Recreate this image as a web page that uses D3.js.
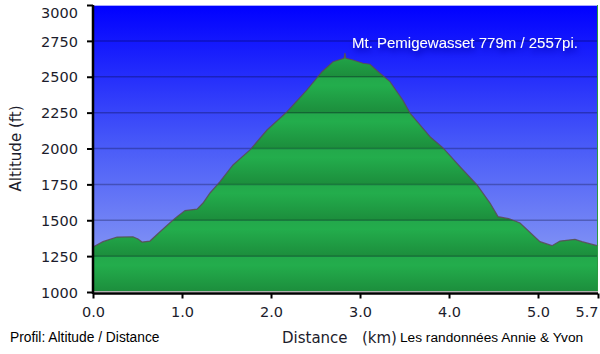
<!DOCTYPE html>
<html>
<head>
<meta charset="utf-8">
<script src="https://cdn.jsdelivr.net/npm/d3@7"></script>
<style>
  html, body { margin: 0; padding: 0; background: #fff; }
  svg { display: block; }
</style>
</head>
<body>
<div id="profile_chart"></div>
<script>
// Elevation profile (km / ft)
const distKm = [0.00, 0.112, 0.270, 0.449, 0.506, 0.551, 0.640, 0.753, 0.865, 0.944,
    1.034, 1.169, 1.236, 1.315, 1.427, 1.573, 1.764, 1.955, 2.180, 2.404,
    2.573, 2.697, 2.820, 2.831, 2.842, 2.921, 3.034, 3.112, 3.225, 3.337,
    3.483, 3.562, 3.787, 3.933, 4.124, 4.315, 4.461, 4.551, 4.685, 4.798,
    5.022, 5.157, 5.247, 5.416, 5.494, 5.674];
const altFt = [1314, 1351, 1383, 1385, 1369, 1348, 1355, 1420, 1483, 1525,
    1567, 1578, 1620, 1690, 1769, 1885, 1990, 2129, 2256, 2408,
    2535, 2605, 2629, 2665, 2629, 2617, 2594, 2587, 2524, 2466,
    2335, 2247, 2082, 2004, 1873, 1746, 1620, 1525, 1509, 1481,
    1351, 1323, 1355, 1367, 1351, 1321];

// Axis ticks
const yTicks = [1000, 1250, 1500, 1750, 2000, 2250, 2500, 2750, 3000];
const xTicks = [0, 1, 2, 3, 4, 5, 5.674];

// Texts
const titleText = "Mt. Pemigewasset 779m / 2557pi.";
const yLabel = "Altitude (ft)";
const xLabel = "Distance   (km)";
const footLeft = "Profil: Altitude / Distance";
const footRight = "Les randonnées Annie & Yvon";

function create_profile_chart(width, height) {
    const left = 93, right = 598, top = 5, bottom = 292;

    const x = d3.scaleLinear().domain([0, 5.674]).range([left, right]);
    const y = d3.scaleLinear().domain([1000, 3000]).range([bottom, top]);

    const svg = d3.select("#profile_chart").append("svg")
        .attr("width", width)
        .attr("height", height);

    const defs = svg.append("defs");

    // Sky gradient, dark blue on top
    const sky = defs.append("linearGradient")
        .attr("id", "sky")
        .attr("x1", 0).attr("y1", 0).attr("x2", 0).attr("y2", 1);
    sky.append("stop").attr("offset", 0).attr("stop-color", "#0000ff");
    sky.append("stop").attr("offset", 0.5).attr("stop-color", "#4a5cf8");
    sky.append("stop").attr("offset", 1).attr("stop-color", "#95a6f3");

    // Green bands, one per 250 ft, lighter just under each grid line
    const band = defs.append("linearGradient")
        .attr("id", "band")
        .attr("gradientUnits", "userSpaceOnUse")
        .attr("spreadMethod", "repeat")
        .attr("x1", 0).attr("x2", 0)
        .attr("y1", y(1250)).attr("y2", y(1000));
    band.append("stop").attr("offset", 0).attr("stop-color", "#23a84b");
    band.append("stop").attr("offset", 0.25).attr("stop-color", "#23ad4c");
    band.append("stop").attr("offset", 1).attr("stop-color", "#1c8d3c");

    // Soft dark glow behind the title
    const glow = defs.append("filter").attr("id", "glow")
        .attr("x", "-10%").attr("y", "-50%").attr("width", "120%").attr("height", "250%");
    glow.append("feDropShadow")
        .attr("dx", 2).attr("dy", 4).attr("stdDeviation", 3)
        .attr("flood-color", "#0000a8").attr("flood-opacity", 0.9);

    // Plot background
    svg.append("rect")
        .attr("x", left).attr("y", top)
        .attr("width", right - left).attr("height", bottom - top)
        .attr("fill", "url(#sky)");

    // Terrain area
    const pts = distKm.map((d, i) => [d, altFt[i]]);
    const area = d3.area()
        .x(d => x(d[0]))
        .y0(y(1000))
        .y1(d => y(d[1]));
    svg.append("path")
        .datum(pts)
        .attr("d", area)
        .attr("fill", "url(#band)");

    // Grid lines
    svg.append("g")
        .selectAll("line")
        .data(yTicks.slice(1, -1))
        .enter().append("line")
        .attr("x1", left).attr("x2", right)
        .attr("y1", d => y(d)).attr("y2", d => y(d))
        .attr("stroke", "rgba(0,0,30,0.28)")
        .attr("stroke-width", 1.5);

    // Profile outline
    const line = d3.line()
        .x(d => x(d[0]))
        .y(d => y(d[1]));
    svg.append("path")
        .datum(pts)
        .attr("d", line)
        .attr("fill", "none")
        .attr("stroke", "#5b4a55")
        .attr("stroke-opacity", 0.85)
        .attr("stroke-width", 1.2);

    // Frame bits: top edge, right edge, grey line above x axis
    svg.append("line")
        .attr("x1", left).attr("x2", right).attr("y1", top + 0.5).attr("y2", top + 0.5)
        .attr("stroke", "#a8a8ff");
    svg.append("line")
        .attr("x1", right - 0.5).attr("x2", right - 0.5).attr("y1", top).attr("y2", bottom)
        .attr("stroke", "#2a9a40");
    svg.append("line")
        .attr("x1", left).attr("x2", right).attr("y1", bottom - 0.5).attr("y2", bottom - 0.5)
        .attr("stroke", "#b0b0b0");

    // Axes
    const yAxis = d3.axisLeft(y)
        .tickValues(yTicks)
        .tickSize(6)
        .tickPadding(9)
        .tickFormat(d3.format("d"));
    const gy = svg.append("g")
        .attr("transform", `translate(${left},0)`)
        .call(yAxis);

    const xAxis = d3.axisBottom(x)
        .tickValues(xTicks)
        .tickSize(5)
        .tickPadding(8)
        .tickFormat(d3.format(".1f"));
    const gx = svg.append("g")
        .attr("transform", `translate(0,${bottom + 1.5})`)
        .call(xAxis);

    [gx, gy].forEach(g => {
        g.select(".domain").attr("stroke", "#000").attr("stroke-width", 2.5);
        g.selectAll(".tick line").attr("stroke", "#000").attr("stroke-width", 2);
        g.selectAll(".tick text")
            .attr("fill", "#1c1c2c")
            .style("font-family", "'DejaVu Sans', Verdana, sans-serif")
            .style("font-size", "14.5px");
    });
    gy.select(".domain").attr("d", `M0,${top}V${bottom + 2}`);
    gy.selectAll(".tick text").attr("dy", d => d === 3000 ? "0.85em" : "0.36em");
    gx.select(".domain").attr("d", `M${left},0H${right}`);
    // last distance label sits inside the right edge
    gx.selectAll(".tick text")
        .filter(d => d === xTicks[xTicks.length - 1])
        .attr("text-anchor", "end")
        .attr("x", 0);

    // Axis labels
    svg.append("text")
        .attr("transform", `translate(21,${(top + bottom) / 2}) rotate(-90)`)
        .attr("text-anchor", "middle")
        .style("font-family", "'DejaVu Sans', Verdana, sans-serif")
        .style("font-size", "15px")
        .attr("fill", "#1c1c2c")
        .text(yLabel);

    svg.append("text")
        .attr("x", 282).attr("y", 343)
        .style("font-family", "'DejaVu Sans', Verdana, sans-serif")
        .style("font-size", "15px")
        .style("white-space", "pre")
        .attr("xml:space", "preserve")
        .attr("fill", "#1c1c2c")
        .text(xLabel);

    // Footer texts
    svg.append("text")
        .attr("x", 10).attr("y", 342)
        .style("font-family", "'Liberation Sans', Arial, sans-serif")
        .style("font-size", "13.8px")
        .attr("fill", "#000")
        .text(footLeft);

    svg.append("text")
        .attr("x", 400).attr("y", 342)
        .style("font-family", "'Liberation Sans', Arial, sans-serif")
        .style("font-size", "13.7px")
        .attr("fill", "#000")
        .text(footRight);

    // Summit title inside the plot
    svg.append("text")
        .attr("x", 352).attr("y", 48)
        .style("font-family", "'Liberation Sans', Arial, sans-serif")
        .style("font-size", "15px")
        .attr("fill", "#fff")
        .attr("filter", "url(#glow)")
        .text(titleText);
}

create_profile_chart(600, 354);
</script>
</body>
</html>
